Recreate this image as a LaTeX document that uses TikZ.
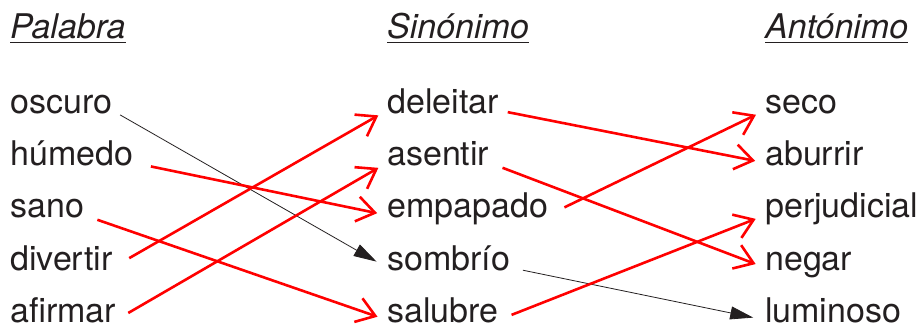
\documentclass[tikz,border=0pt]{standalone}
\usepackage{fontspec}
\setmainfont{TeX Gyre Heros}
\usetikzlibrary{arrows.meta}
\definecolor{ink}{RGB}{35,31,32}

\tikzset{
  word/.style={anchor=base west, inner sep=0pt, text height=0.52em, text depth=0pt, font=\fontsize{34}{40}\selectfont, text=ink},
  head/.style={word, font=\fontsize{34}{40}\selectfont\itshape},
  redarr/.style={draw=red, line width=2.6pt, -{Straight Barb[length=18pt,width=25pt]}, shorten <=14pt, shorten >=10pt},
  blkarr/.style={draw=ink, line width=0.8pt, -{Triangle[length=23pt,width=13pt]}, shorten <=10pt, shorten >=12pt},
}

\begin{document}
\begin{tikzpicture}[x=1pt,y=-1pt]
 \useasboundingbox (0,0) rectangle (923,329);

 % headings
 \foreach \n/\x/\t in {pal/10/Palabra, sin/387/Sinónimo, ant/765/Antónimo} {
   \node[head] (\n) at (\x,38) {\t};
   \draw[ink, line width=1.7pt] ([yshift=-4.5pt]\n.base west) -- ([yshift=-4.5pt]\n.base east);
 }

 % the three columns
 \foreach \n/\t [count=\i] in {oscuro/oscuro, humedo/húmedo, sano/sano, divertir/divertir, afirmar/afirmar}
   \node[word] (\n) at (10, 60.6+52.4*\i) {\t};
 \foreach \n/\t [count=\i] in {deleitar/deleitar, asentir/asentir, empapado/empapado, sombrio/sombrío, salubre/salubre}
   \node[word] (\n) at (387, 60.6+52.4*\i) {\t};
 \foreach \n/\t [count=\i] in {seco/seco, aburrir/aburrir, perjudicial/perjudicial, negar/negar, luminoso/luminoso}
   \node[word] (\n) at (765, 60.6+52.4*\i) {\t};

 % Palabra -> Sinonimo
 \draw[blkarr, shorten <=9pt] (oscuro.east) -- (sombrio.west);
 \draw[redarr, shorten <=18pt] (humedo.east) -- (empapado.west);
 \draw[redarr] (sano.east) -- (salubre.west);
 \draw[redarr, shorten <=19pt] (divertir.east) -- (deleitar.west);
 \draw[redarr] (afirmar.east) -- (asentir.west);

 % Sinonimo -> Antonimo
 \draw[redarr, shorten <=9pt] (deleitar.east) -- (aburrir.west);
 \draw[redarr] (asentir.east) -- (negar.west);
 \draw[redarr, shorten <=18pt] (empapado.east) -- (seco.west);
 \draw[blkarr, shorten <=13pt] (sombrio.east) -- (luminoso.west);
 \draw[redarr] (salubre.east) -- (perjudicial.west);
\end{tikzpicture}
\end{document}
